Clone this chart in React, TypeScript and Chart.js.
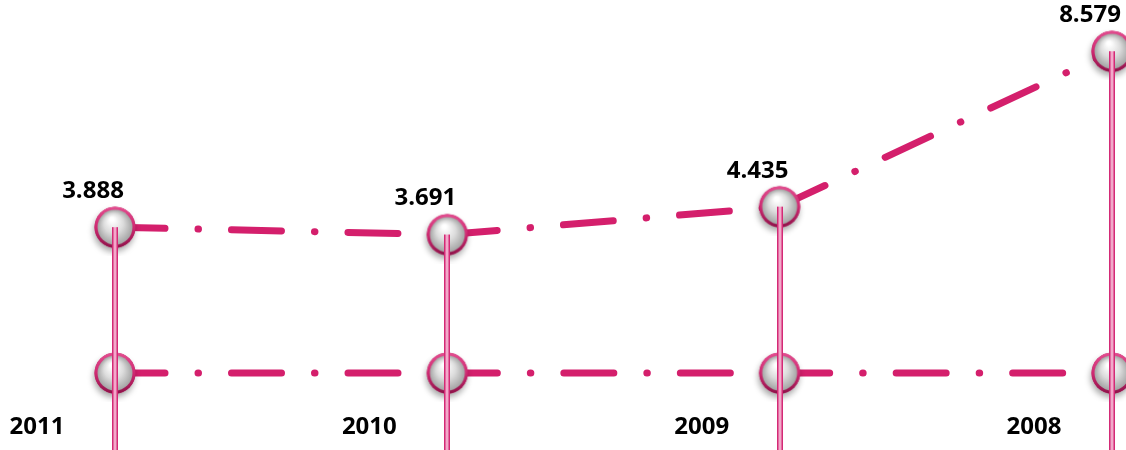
import React, { useEffect, useRef } from "react";
import { Chart, registerables } from "chart.js";

Chart.register(...registerables);

const years = ["2011", "2010", "2009", "2008"];
const values = [3.888, 3.691, 4.435, 8.579];
const baseline = [0, 0, 0, 0];

const LINE_COLOR = "#D41F6C";

function makeMarker(): HTMLCanvasElement {
  const size = 58;
  const c = document.createElement("canvas");
  c.width = size;
  c.height = size;
  const g = c.getContext("2d")!;
  const cx = size / 2;
  const cy = size / 2;
  const r = 20.5;
  // shadow
  g.save();
  g.shadowColor = "rgba(0,0,0,0.35)";
  g.shadowBlur = 6;
  g.shadowOffsetX = -1;
  g.shadowOffsetY = 4;
  g.beginPath();
  g.arc(cx, cy, r, 0, Math.PI * 2);
  g.fillStyle = "#c2155f";
  g.fill();
  g.restore();
  // border ring gradient
  const ring = g.createLinearGradient(0, cy - r, 0, cy + r);
  ring.addColorStop(0, "#e24d8f");
  ring.addColorStop(0.5, "#cf2a72");
  ring.addColorStop(1, "#8e1249");
  g.beginPath();
  g.arc(cx, cy, r, 0, Math.PI * 2);
  g.fillStyle = ring;
  g.fill();
  // inner sphere
  const inner = g.createRadialGradient(cx - 3, cy - 8, 2, cx, cy, r - 3);
  inner.addColorStop(0, "#ffffff");
  inner.addColorStop(0.5, "#dcdcdc");
  inner.addColorStop(1, "#a4a4a4");
  g.beginPath();
  g.arc(cx, cy, r - 3, 0, Math.PI * 2);
  g.fillStyle = inner;
  g.fill();
  return c;
}

const dropLines = {
  id: "dropLines",
  afterDatasetsDraw(chart: any) {
    const ctx = chart.ctx;
    const meta = chart.getDatasetMeta(0);
    const bottom = chart.height;
    ctx.save();
    meta.data.forEach((pt: any) => {
      const x = Math.round(pt.x);
      const y = pt.y;
      ctx.fillStyle = "#F2A9CA";
      ctx.fillRect(x - 3, y, 6, bottom - y);
      ctx.fillStyle = "#D42A76";
      ctx.fillRect(x - 3, y, 1.5, bottom - y);
      ctx.fillRect(x + 1.5, y, 1.5, bottom - y);
    });
    ctx.restore();
  },
};

const textLabels = {
  id: "textLabels",
  afterDraw(chart: any) {
    const ctx = chart.ctx;
    ctx.save();
    ctx.fillStyle = "#000";
    ctx.font = "bold 24px 'Open Sans', sans-serif";
    ctx.textAlign = "center";
    ctx.textBaseline = "middle";
    const top = chart.getDatasetMeta(0);
    top.data.forEach((pt: any, i: number) => {
      ctx.fillText(values[i].toFixed(3), pt.x - 22, pt.y - 36);
    });
    const low = chart.getDatasetMeta(1);
    low.data.forEach((pt: any, i: number) => {
      ctx.fillText(years[i], pt.x - 78, pt.y + 54);
    });
    ctx.restore();
  },
};

export default function App() {
  const ref = useRef<HTMLCanvasElement>(null);
  useEffect(() => {
    const marker = makeMarker();
    const segStyle = {
      borderDashOffset: (c: any) => c.p0DataIndex * 0.001,
    };
    const common = {
      borderColor: LINE_COLOR,
      borderWidth: 7,
      borderCapStyle: "round",
      borderDash: [50, 33, 0.5, 33],
      pointStyle: marker as any,
      pointRadius: 20,
      tension: 0,
      clip: false as any,
      segment: segStyle as any,
    };
    const chart = new Chart(ref.current!, {
      type: "line",
      data: {
        labels: years,
        datasets: [
          { data: values, ...common } as any,
          { data: baseline, ...common } as any,
        ],
      },
      options: {
        animation: false,
        responsive: false,
        layout: { autoPadding: false, padding: { left: 115, right: 14, top: 0, bottom: 0 } } as any,
        plugins: { legend: { display: false }, tooltip: { enabled: false } },
        scales: {
          x: { display: false, offset: false },
          y: { display: false, min: -2.053, max: 9.947 },
        },
      },
      plugins: [dropLines, textLabels],
    });
    return () => chart.destroy();
  }, []);
  return (
    <div style={{ position: "fixed", left: 0, top: 0, width: 1126, height: 450, background: "#fff" }}>
      <canvas ref={ref} width={1126} height={450} />
    </div>
  );
}
